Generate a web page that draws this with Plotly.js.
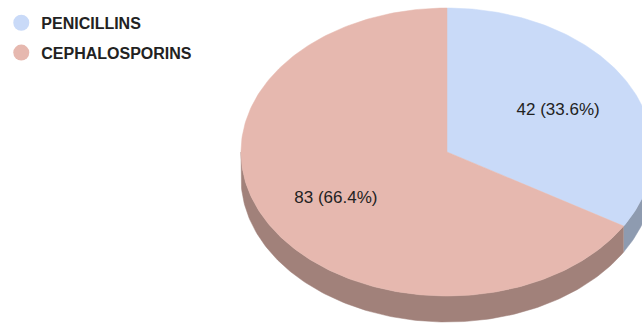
<!DOCTYPE html>
<html><head><meta charset="utf-8">
<script src="https://cdn.plot.ly/plotly-3.0.1.min.js"></script>
<style>html,body{margin:0;padding:0;background:#fff}#chart{width:642px;height:324px}</style>
</head><body><div id="chart"></div>
<script>
const categories = ['PENICILLINS', 'CEPHALOSPORINS'];
const values = [42, 83];
const topColors = ['#c9daf8', '#e6b8af'];
const sideColors = ['#8e9bb0', '#a1817a'];

// geometry (pixel-like layout space)
const cx = 447, cy = 152, rx = 206, ry = 144, depth = 26, labelFrac = 0.62, labelDy = 2.5;
const total = values.reduce((a, b) => a + b, 0);
const rad = d => d * Math.PI / 180;
const px = a => cx + rx * Math.sin(rad(a));
const py = (a, off) => cy - ry * Math.cos(rad(a)) + (off || 0);

const sides = [], tops = [], labelsX = [], labelsY = [], labelsT = [];
let start = 0;
values.forEach((v, i) => {
  const span = v / total * 360, end = start + span;
  const s0 = Math.max(start, 90), s1 = Math.min(end, 270);
  if (s1 > s0) {
    const xs = [], ys = [];
    const n = Math.max(2, Math.ceil(s1 - s0));
    for (let k = 0; k <= n; k++) { const a = s0 + (s1 - s0) * k / n; xs.push(px(a)); ys.push(py(a)); }
    for (let k = n; k >= 0; k--) { const a = s0 + (s1 - s0) * k / n; xs.push(px(a)); ys.push(py(a, depth)); }
    sides.push({type: 'scatter', mode: 'lines', x: xs, y: ys, fill: 'toself', fillcolor: sideColors[i],
      line: {width: 0.5, color: sideColors[i]}, hoverinfo: 'skip', showlegend: false});
  }
  const xs = [cx], ys = [cy];
  const n = Math.max(2, Math.ceil(span));
  for (let k = 0; k <= n; k++) { const a = start + span * k / n; xs.push(px(a)); ys.push(py(a)); }
  xs.push(cx); ys.push(cy);
  tops.push({type: 'scatter', mode: 'lines', x: xs, y: ys, fill: 'toself', fillcolor: topColors[i],
    line: {width: 0.5, color: topColors[i]}, hoverinfo: 'skip', showlegend: false});
  const mid = start + span / 2;
  labelsX.push(cx + labelFrac * rx * Math.sin(rad(mid)));
  labelsY.push(cy - labelFrac * ry * Math.cos(rad(mid)) + labelDy);
  labelsT.push(v + ' (' + (v / total * 100).toFixed(1) + '%)');
  start = end;
});

const labelTrace = {type: 'scatter', mode: 'text', x: labelsX, y: labelsY, text: labelsT,
  textposition: 'middle center', textfont: {family: 'Liberation Sans, Arial, sans-serif', size: 17, color: '#222'},
  hoverinfo: 'skip', showlegend: false};

const legendTraces = categories.map((c, i) => ({type: 'scatter', mode: 'markers', x: [null], y: [null], name: c,
  legendgroup: 'g' + i, marker: {size: 16, color: topColors[i], symbol: 'circle'}}));

const layout = {
  width: 642, height: 324, margin: {l: 0, r: 0, t: 0, b: 0},
  paper_bgcolor: '#fff', plot_bgcolor: '#fff',
  xaxis: {range: [0, 642], visible: false, fixedrange: true},
  yaxis: {range: [324, 0], visible: false, fixedrange: true},
  showlegend: true,
  legend: {x: 0.002, y: 0.982, xanchor: 'left', yanchor: 'top', tracegroupgap: 6, bgcolor: 'rgba(0,0,0,0)',
    font: {family: 'Liberation Sans, Arial, sans-serif', size: 16, color: '#222', weight: 'bold'}}
};

Plotly.newPlot('chart', [...sides, ...tops, labelTrace, ...legendTraces], layout, {displayModeBar: false, staticPlot: true});
</script></body></html>
